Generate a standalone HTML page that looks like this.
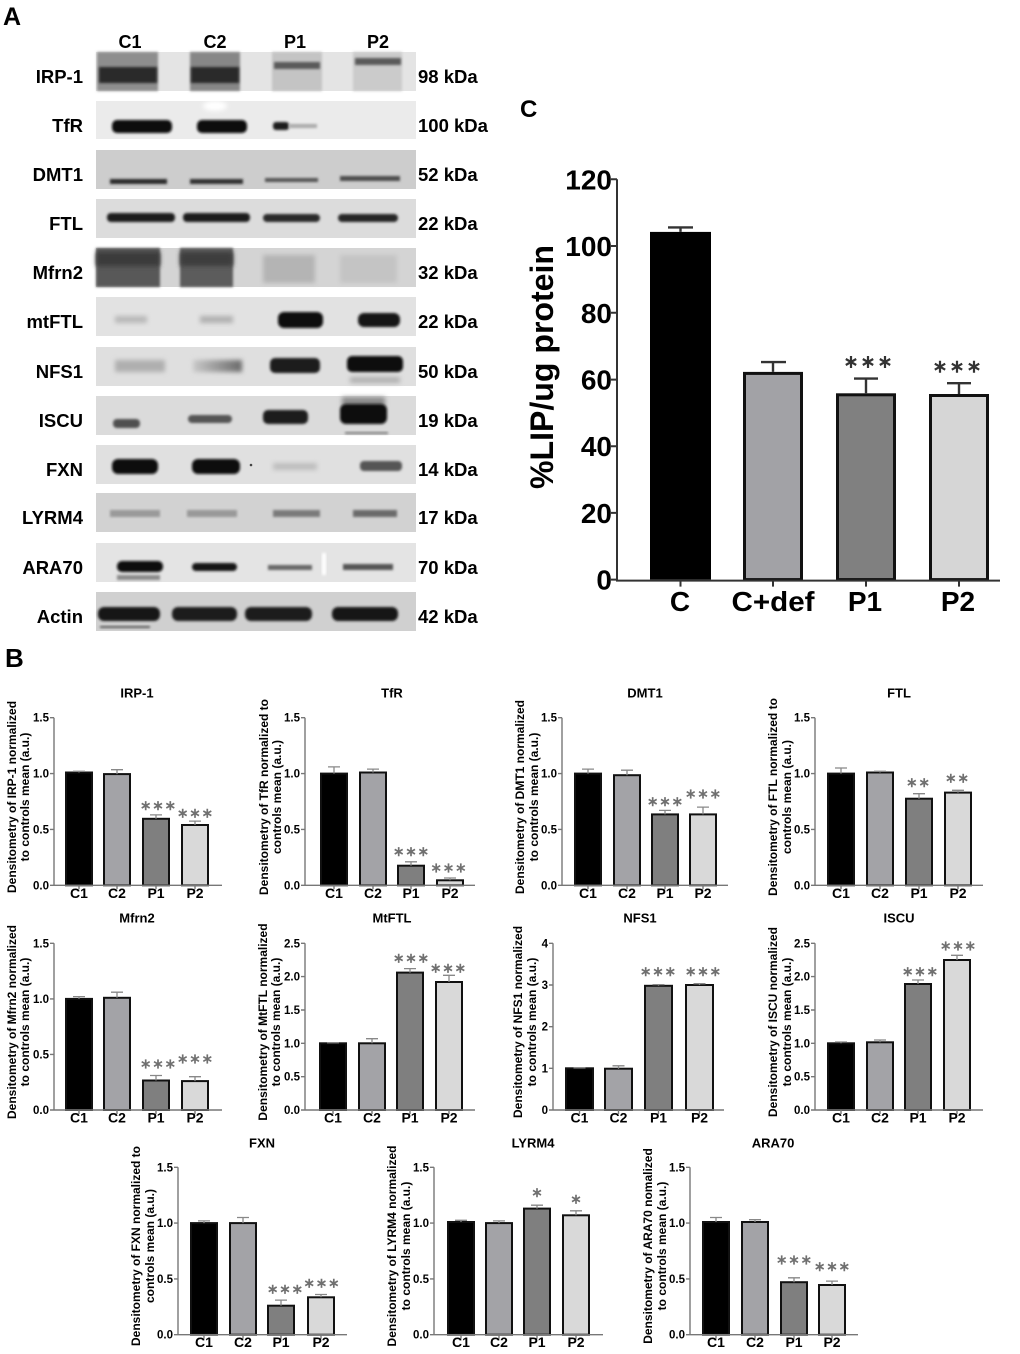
<!DOCTYPE html>
<html>
<head>
<meta charset="utf-8">
<style>
html,body{margin:0;padding:0;background:#fff;}
svg{display:block;}
text{font-family:"Liberation Sans",Arial,sans-serif;font-weight:bold;fill:#000;}
.lab{font-size:18.5px;}
.lane{font-size:18px;text-anchor:middle;}
.pn{font-size:18.5px;text-anchor:end;}
.tl{font-size:11.5px;text-anchor:end;}
.xl{font-size:14px;text-anchor:middle;}
.ti{font-size:13px;text-anchor:middle;}
.yl{font-size:12px;text-anchor:middle;}
.ax{stroke:#777;stroke-width:1.4;fill:none;}
.eb{stroke:#888;stroke-width:1.3;fill:none;}
.b{stroke:#111;stroke-width:2;}
.B{stroke:#111;stroke-width:3;}
.cax{stroke:#333;stroke-width:2;fill:none;}
.ceb{stroke:#333;stroke-width:2.4;fill:none;}
.ctl{font-size:28px;text-anchor:end;}
.cxl{font-size:28px;text-anchor:middle;}
</style>
</head>
<body>
<svg width="1020" height="1354" viewBox="0 0 1020 1354" xmlns="http://www.w3.org/2000/svg">
<defs>
<filter id="f1" x="-20%" y="-60%" width="140%" height="220%"><feGaussianBlur stdDeviation="1.2"/></filter>
<filter id="f2" x="-30%" y="-80%" width="160%" height="260%"><feGaussianBlur stdDeviation="2.4"/></filter>
<linearGradient id="gn" x1="0" x2="1" y1="0" y2="0"><stop offset="0" stop-color="#c8c8c8"/><stop offset="1" stop-color="#6a6a6a"/></linearGradient>
<path id="s" d="M0,-4.6V4.6M-4,-2.3L4,2.3M-4,2.3L4,-2.3" stroke="#707070" stroke-width="1.7" fill="none"/>
<path id="S" d="M0,-6V6M-5.2,-3L5.2,3M-5.2,3L5.2,-3" stroke="#333" stroke-width="2.2" fill="none"/>
</defs>

<!-- ============ PANEL A ============ -->
<text x="3" y="25" style="font-size:25px">A</text>
<text class="lane" x="130" y="48">C1</text>
<text class="lane" x="215" y="48">C2</text>
<text class="lane" x="295" y="48">P1</text>
<text class="lane" x="378" y="48">P2</text>

<!-- IRP-1 -->
<rect x="96" y="52" width="320" height="39" fill="#e4e4e4"/>
<rect x="97" y="52" width="61" height="39" fill="#8e8e8e" filter="url(#f1)"/>
<rect x="190" y="52" width="50" height="39" fill="#878787" filter="url(#f1)"/>
<rect x="99" y="67" width="58" height="16" fill="#2a2a2a" filter="url(#f1)"/>
<rect x="191" y="67" width="48" height="16" fill="#2a2a2a" filter="url(#f1)"/>
<rect x="272" y="52" width="50" height="39" fill="#c4c4c4" filter="url(#f1)"/>
<rect x="274" y="62" width="46" height="7" fill="#5a5a5a" filter="url(#f1)"/>
<rect x="353" y="52" width="49" height="39" fill="#cbcbcb" filter="url(#f1)"/>
<rect x="355" y="58" width="46" height="7" fill="#5a5a5a" filter="url(#f1)"/>
<text class="pn" x="83" y="83">IRP-1</text>
<text class="lab" x="418" y="83">98 kDa</text>

<!-- TfR -->
<rect x="96" y="101" width="320" height="38" fill="#ebebeb"/>
<ellipse cx="215" cy="106" rx="12" ry="5" fill="#fff" filter="url(#f2)"/>
<rect x="112" y="120" width="60" height="13" rx="5" fill="#0d0d0d" filter="url(#f1)"/>
<rect x="197" y="120" width="50" height="13" rx="5" fill="#0d0d0d" filter="url(#f1)"/>
<rect x="273" y="122" width="16" height="8" rx="3" fill="#1a1a1a" filter="url(#f1)"/>
<rect x="289" y="124" width="28" height="4" fill="#aaa" filter="url(#f1)"/>
<text class="pn" x="83" y="132">TfR</text>
<text class="lab" x="418" y="132">100 kDa</text>

<!-- DMT1 -->
<rect x="96" y="150" width="320" height="39" fill="#cdcdcd"/>
<rect x="110" y="179" width="57" height="5" fill="#2b2b2b" filter="url(#f1)"/>
<rect x="190" y="179" width="53" height="5" fill="#333" filter="url(#f1)"/>
<rect x="265" y="178" width="53" height="4" fill="#555" filter="url(#f1)"/>
<rect x="340" y="176" width="60" height="5" fill="#4d4d4d" filter="url(#f1)"/>
<text class="pn" x="83" y="181">DMT1</text>
<text class="lab" x="418" y="181">52 kDa</text>

<!-- FTL -->
<rect x="96" y="199" width="320" height="39" fill="#dcdcdc"/>
<rect x="107" y="213" width="68" height="9" rx="4" fill="#1c1c1c" filter="url(#f1)"/>
<rect x="183" y="213" width="67" height="9" rx="4" fill="#1c1c1c" filter="url(#f1)"/>
<rect x="263" y="214" width="57" height="8" rx="4" fill="#2a2a2a" filter="url(#f1)"/>
<rect x="338" y="214" width="60" height="8" rx="4" fill="#262626" filter="url(#f1)"/>
<text class="pn" x="83" y="230">FTL</text>
<text class="lab" x="418" y="230">22 kDa</text>

<!-- Mfrn2 -->
<rect x="96" y="248" width="320" height="39" fill="#d4d4d4"/>
<rect x="96" y="248" width="64" height="39" fill="#585858" filter="url(#f1)"/>
<rect x="96" y="252" width="64" height="14" fill="#3a3a3a" filter="url(#f2)"/>
<rect x="180" y="248" width="53" height="39" fill="#5c5c5c" filter="url(#f1)"/>
<rect x="180" y="252" width="53" height="14" fill="#3e3e3e" filter="url(#f2)"/>
<rect x="263" y="255" width="52" height="28" fill="#b4b4b4" filter="url(#f2)"/>
<rect x="340" y="255" width="57" height="28" fill="#c4c4c4" filter="url(#f2)"/>
<text class="pn" x="83" y="279">Mfrn2</text>
<text class="lab" x="418" y="279">32 kDa</text>

<!-- mtFTL -->
<rect x="96" y="297" width="320" height="39" fill="#e2e2e2"/>
<rect x="115" y="316" width="32" height="7" fill="#b8b8b8" filter="url(#f2)"/>
<rect x="200" y="316" width="33" height="7" fill="#b0b0b0" filter="url(#f2)"/>
<rect x="278" y="312" width="45" height="16" rx="6" fill="#111" filter="url(#f1)"/>
<rect x="358" y="313" width="42" height="14" rx="6" fill="#161616" filter="url(#f1)"/>
<text class="pn" x="83" y="328">mtFTL</text>
<text class="lab" x="418" y="328">22 kDa</text>

<!-- NFS1 -->
<rect x="96" y="347" width="320" height="39" fill="#dfdfdf"/>
<rect x="115" y="360" width="50" height="12" fill="#afafaf" filter="url(#f2)"/>
<rect x="193" y="360" width="49" height="12" fill="url(#gn)" filter="url(#f2)"/>
<rect x="270" y="358" width="50" height="15" rx="5" fill="#1a1a1a" filter="url(#f1)"/>
<rect x="347" y="356" width="56" height="16" rx="5" fill="#0f0f0f" filter="url(#f1)"/>
<rect x="350" y="377" width="50" height="6" fill="#b0b0b0" filter="url(#f2)"/>
<text class="pn" x="83" y="378">NFS1</text>
<text class="lab" x="418" y="378">50 kDa</text>

<!-- ISCU -->
<rect x="96" y="396" width="320" height="39" fill="#dbdbdb"/>
<rect x="342" y="397" width="43" height="10" fill="#8a8a8a" filter="url(#f2)"/>
<rect x="113" y="419" width="27" height="9" rx="4" fill="#505050" filter="url(#f1)"/>
<rect x="188" y="415" width="44" height="8" rx="4" fill="#555" filter="url(#f1)"/>
<rect x="263" y="410" width="45" height="14" rx="5" fill="#1c1c1c" filter="url(#f1)"/>
<rect x="340" y="404" width="47" height="20" rx="6" fill="#0c0c0c" filter="url(#f1)"/>
<rect x="345" y="432" width="43" height="2" fill="#777" filter="url(#f1)"/>
<text class="pn" x="83" y="427">ISCU</text>
<text class="lab" x="418" y="427">19 kDa</text>

<!-- FXN -->
<rect x="96" y="445" width="320" height="39" fill="#e0e0e0"/>
<rect x="112" y="459" width="46" height="15" rx="6" fill="#0d0d0d" filter="url(#f1)"/>
<rect x="192" y="459" width="48" height="15" rx="6" fill="#0d0d0d" filter="url(#f1)"/>
<rect x="273" y="463" width="44" height="7" fill="#bdbdbd" filter="url(#f2)"/>
<rect x="360" y="461" width="42" height="10" rx="4" fill="#555" filter="url(#f1)"/>
<circle cx="251" cy="465" r="1.3" fill="#444"/>
<text class="pn" x="83" y="476">FXN</text>
<text class="lab" x="418" y="476">14 kDa</text>

<!-- LYRM4 -->
<rect x="96" y="493" width="320" height="39" fill="#d2d2d2"/>
<rect x="110" y="510" width="50" height="7" fill="#9a9a9a" filter="url(#f1)"/>
<rect x="187" y="510" width="50" height="7" fill="#999" filter="url(#f1)"/>
<rect x="273" y="510" width="47" height="7" fill="#7a7a7a" filter="url(#f1)"/>
<rect x="353" y="510" width="44" height="7" fill="#6a6a6a" filter="url(#f1)"/>
<text class="pn" x="83" y="524">LYRM4</text>
<text class="lab" x="418" y="524">17 kDa</text>

<!-- ARA70 -->
<rect x="96" y="543" width="320" height="39" fill="#e4e4e4"/>
<rect x="117" y="561" width="46" height="11" rx="5" fill="#0e0e0e" filter="url(#f1)"/>
<rect x="117" y="575" width="43" height="5" fill="#8a8a8a" filter="url(#f1)"/>
<rect x="192" y="563" width="45" height="8" rx="4" fill="#151515" filter="url(#f1)"/>
<rect x="268" y="565" width="44" height="5" fill="#666" filter="url(#f1)"/>
<rect x="343" y="564" width="50" height="6" fill="#555" filter="url(#f1)"/>
<rect x="322" y="553" width="4" height="22" fill="#fff" filter="url(#f1)"/>
<text class="pn" x="83" y="574">ARA70</text>
<text class="lab" x="418" y="574">70 kDa</text>

<!-- Actin -->
<rect x="96" y="592" width="320" height="39" fill="#d0d0d0"/>
<rect x="98" y="607" width="62" height="14" rx="6" fill="#181818" filter="url(#f1)"/>
<rect x="172" y="607" width="65" height="14" rx="6" fill="#1a1a1a" filter="url(#f1)"/>
<rect x="245" y="607" width="67" height="14" rx="6" fill="#1c1c1c" filter="url(#f1)"/>
<rect x="332" y="607" width="66" height="14" rx="6" fill="#121212" filter="url(#f1)"/>
<rect x="100" y="626" width="50" height="2" fill="#555" filter="url(#f1)"/>
<text class="pn" x="83" y="623">Actin</text>
<text class="lab" x="418" y="623">42 kDa</text>

<!-- ============ PANEL C ============ -->
<text x="520" y="117" style="font-size:24px">C</text>
<text class="ctl" x="612" y="189.3">120</text>
<text class="ctl" x="612" y="256">100</text>
<text class="ctl" x="612" y="322.8">80</text>
<text class="ctl" x="612" y="389.6">60</text>
<text class="ctl" x="612" y="456.2">40</text>
<text class="ctl" x="612" y="522.9">20</text>
<text class="ctl" x="612" y="589.6">0</text>
<text transform="translate(553,367) rotate(-90)" style="font-size:32px;text-anchor:middle" textLength="244" lengthAdjust="spacingAndGlyphs">%LIP/ug protein</text>
<rect x="650" y="231.9" width="61" height="347.7" fill="#000"/>
<rect class="B" x="744.5" y="373.4" width="57" height="206.2" fill="#a2a2a6"/>
<rect class="B" x="837.5" y="394.8" width="57" height="184.8" fill="#808080"/>
<rect class="B" x="930.5" y="395.5" width="57" height="184.1" fill="#d6d6d6"/>
<path class="ceb" d="M680.5,231.9V227.4M668,227.4H693M773,371.9V362.1M761,362.1H786M866,393.3V378.6M854,378.6H878M959,394V383.2M947,383.2H971"/>
<path class="cax" d="M617,179.3V580.6H1000M611,179.3H617M611,246H617M611,312.8H617M611,379.6H617M611,446.2H617M611,512.9H617M611,579.6H617M680.5,580.6v6M773,580.6v6M866,580.6v6M959,580.6v6"/>
<use href="#S" x="851" y="362"/><use href="#S" x="868" y="362"/><use href="#S" x="885" y="362"/>
<use href="#S" x="940" y="366.7"/><use href="#S" x="957" y="366.7"/><use href="#S" x="974" y="366.7"/>
<text class="cxl" x="680" y="611">C</text>
<text class="cxl" x="773" y="611" textLength="83" lengthAdjust="spacingAndGlyphs">C+def</text>
<text class="cxl" x="865" y="611">P1</text>
<text class="cxl" x="958" y="611">P2</text>

<!-- ============ PANEL B ============ -->
<text x="5" y="667" style="font-size:26px">B</text>

<!-- Chart 1 IRP-1 -->
<text class="ti" x="137" y="697.5">IRP-1</text>
<text class="yl" transform="translate(16,797) rotate(-90)">Densitometry of IRP-1 normalized</text>
<text class="yl" transform="translate(29,797) rotate(-90)">to controls mean (a.u.)</text>
<text class="tl" x="49" y="721.7">1.5</text><text class="tl" x="49" y="777.6">1.0</text><text class="tl" x="49" y="833.4">0.5</text><text class="tl" x="49" y="889.3">0.0</text>
<rect class="b" x="66" y="772.5" width="26" height="112.8" fill="#000"/>
<rect class="b" x="104" y="774.1" width="26" height="111.2" fill="#a3a3a7"/>
<rect class="b" x="143" y="818.8" width="26" height="66.5" fill="#7f7f7f"/>
<rect class="b" x="182" y="825" width="26" height="60.3" fill="#d9d9d9"/>
<path class="eb" d="M79,772.5V771.3M73,771.3H85M117,774.1V769.7M111,769.7H123M156,818.8V814.9M150,814.9H162M195,825V821.1M189,821.1H201"/>
<path class="ax" d="M54,717.7V885.3H222M50,717.7H54M50,773.6H54M50,829.4H54M50,885.3H54M79,885.3v4M117,885.3v4M156,885.3v4M195,885.3v4"/>
<use href="#s" x="145.7" y="805.7"/><use href="#s" x="158" y="805.7"/><use href="#s" x="170.3" y="805.7"/>
<use href="#s" x="182.7" y="813.3"/><use href="#s" x="195" y="813.3"/><use href="#s" x="207.3" y="813.3"/>
<text class="xl" x="79" y="898">C1</text><text class="xl" x="117" y="898">C2</text><text class="xl" x="156" y="898">P1</text><text class="xl" x="195" y="898">P2</text>

<!-- Chart 2 TfR -->
<text class="ti" x="392" y="697.5">TfR</text>
<text class="yl" transform="translate(268,797) rotate(-90)">Densitometry of TfR normalized to</text>
<text class="yl" transform="translate(281,797) rotate(-90)">controls mean (a.u.)</text>
<text class="tl" x="300" y="721.7">1.5</text><text class="tl" x="300" y="777.6">1.0</text><text class="tl" x="300" y="833.4">0.5</text><text class="tl" x="300" y="889.3">0.0</text>
<rect class="b" x="321" y="773.6" width="26" height="111.7" fill="#000"/>
<rect class="b" x="360" y="772.5" width="26" height="112.8" fill="#a3a3a7"/>
<rect class="b" x="398" y="865.7" width="26" height="19.6" fill="#7f7f7f"/>
<rect class="b" x="437" y="880.3" width="26" height="5" fill="#d9d9d9"/>
<path class="eb" d="M334,773.6V766.9M328,766.9H340M373,772.5V769.1M367,769.1H379M411,865.7V861.8M405,861.8H417M450,880.3V878M444,878H456"/>
<path class="ax" d="M305,717.7V885.3H475M301,717.7H305M301,773.6H305M301,829.4H305M301,885.3H305M334,885.3v4M373,885.3v4M411,885.3v4M450,885.3v4"/>
<use href="#s" x="398.7" y="851.7"/><use href="#s" x="411" y="851.7"/><use href="#s" x="423.3" y="851.7"/>
<use href="#s" x="436.2" y="868"/><use href="#s" x="448.5" y="868"/><use href="#s" x="460.8" y="868"/>
<text class="xl" x="334" y="898">C1</text><text class="xl" x="373" y="898">C2</text><text class="xl" x="411" y="898">P1</text><text class="xl" x="450" y="898">P2</text>

<!-- Chart 3 DMT1 -->
<text class="ti" x="645" y="697.5">DMT1</text>
<text class="yl" transform="translate(524,797) rotate(-90)">Densitometry of DMT1 normalized</text>
<text class="yl" transform="translate(538,797) rotate(-90)">to controls mean (a.u.)</text>
<text class="tl" x="557" y="721.7">1.5</text><text class="tl" x="557" y="777.6">1.0</text><text class="tl" x="557" y="833.4">0.5</text><text class="tl" x="557" y="889.3">0.0</text>
<rect class="b" x="575" y="773.6" width="26" height="111.7" fill="#000"/>
<rect class="b" x="614" y="775.2" width="26" height="110.1" fill="#a3a3a7"/>
<rect class="b" x="652" y="814.4" width="26" height="70.9" fill="#7f7f7f"/>
<rect class="b" x="690" y="814.4" width="26" height="70.9" fill="#d9d9d9"/>
<path class="eb" d="M588,773.6V769.1M582,769.1H594M627,775.2V770.2M621,770.2H633M665,814.4V810.4M659,810.4H671M703,814.4V807.1M697,807.1H709"/>
<path class="ax" d="M562,717.7V885.3H728M558,717.7H562M558,773.6H562M558,829.4H562M558,885.3H562M588,885.3v4M627,885.3v4M665,885.3v4M703,885.3v4"/>
<use href="#s" x="652.7" y="801.7"/><use href="#s" x="665" y="801.7"/><use href="#s" x="677.3" y="801.7"/>
<use href="#s" x="690.7" y="794"/><use href="#s" x="703" y="794"/><use href="#s" x="715.3" y="794"/>
<text class="xl" x="588" y="898">C1</text><text class="xl" x="627" y="898">C2</text><text class="xl" x="665" y="898">P1</text><text class="xl" x="703" y="898">P2</text>

<!-- Chart 4 FTL -->
<text class="ti" x="899" y="697.5">FTL</text>
<text class="yl" transform="translate(777,797) rotate(-90)">Densitometry of FTL normalized to</text>
<text class="yl" transform="translate(791,797) rotate(-90)">controls mean (a.u.)</text>
<text class="tl" x="810" y="721.7">1.5</text><text class="tl" x="810" y="777.6">1.0</text><text class="tl" x="810" y="833.4">0.5</text><text class="tl" x="810" y="889.3">0.0</text>
<rect class="b" x="828" y="773.6" width="26" height="111.7" fill="#000"/>
<rect class="b" x="867" y="772.5" width="26" height="112.8" fill="#a3a3a7"/>
<rect class="b" x="906" y="798.7" width="26" height="86.6" fill="#7f7f7f"/>
<rect class="b" x="945" y="792.6" width="26" height="92.7" fill="#d9d9d9"/>
<path class="eb" d="M841,773.6V768M835,768H847M880,772.5V771.3M874,771.3H886M919,798.7V793.7M913,793.7H925M958,792.6V790.3M952,790.3H964"/>
<path class="ax" d="M815,717.7V885.3H983M811,717.7H815M811,773.6H815M811,829.4H815M811,885.3H815M841,885.3v4M880,885.3v4M919,885.3v4M958,885.3v4"/>
<use href="#s" x="911.8" y="782.7"/><use href="#s" x="924.2" y="782.7"/>
<use href="#s" x="950.8" y="778.3"/><use href="#s" x="963.2" y="778.3"/>
<text class="xl" x="841" y="898">C1</text><text class="xl" x="880" y="898">C2</text><text class="xl" x="919" y="898">P1</text><text class="xl" x="958" y="898">P2</text>

<!-- Chart 5 Mfrn2 -->
<text class="ti" x="137" y="922.5">Mfrn2</text>
<text class="yl" transform="translate(16,1022) rotate(-90)">Densitometry of Mfrn2 normalized</text>
<text class="yl" transform="translate(29,1022) rotate(-90)">to controls mean (a.u.)</text>
<text class="tl" x="49" y="947.3">1.5</text><text class="tl" x="49" y="1002.9">1.0</text><text class="tl" x="49" y="1058.4">0.5</text><text class="tl" x="49" y="1114">0.0</text>
<rect class="b" x="66" y="998.9" width="26" height="111.1" fill="#000"/>
<rect class="b" x="104" y="997.8" width="26" height="112.2" fill="#a3a3a7"/>
<rect class="b" x="143" y="1080.5" width="26" height="29.5" fill="#7f7f7f"/>
<rect class="b" x="182" y="1081.1" width="26" height="28.9" fill="#d9d9d9"/>
<path class="eb" d="M79,998.9V996.6M73,996.6H85M117,997.8V992.2M111,992.2H123M156,1080.5V1075.5M150,1075.5H162M195,1081.1V1076.7M189,1076.7H201"/>
<path class="ax" d="M54,943.3V1110H222M50,943.3H54M50,998.9H54M50,1054.4H54M50,1110H54M79,1110v4M117,1110v4M156,1110v4M195,1110v4"/>
<use href="#s" x="145.7" y="1064"/><use href="#s" x="158" y="1064"/><use href="#s" x="170.3" y="1064"/>
<use href="#s" x="182.7" y="1059"/><use href="#s" x="195" y="1059"/><use href="#s" x="207.3" y="1059"/>
<text class="xl" x="79" y="1122.5">C1</text><text class="xl" x="117" y="1122.5">C2</text><text class="xl" x="156" y="1122.5">P1</text><text class="xl" x="195" y="1122.5">P2</text>

<!-- Chart 6 MtFTL -->
<text class="ti" x="392" y="922.5">MtFTL</text>
<text class="yl" transform="translate(267,1022) rotate(-90)">Densitometry of MtFTL normalized</text>
<text class="yl" transform="translate(280,1022) rotate(-90)">to controls mean (a.u.)</text>
<text class="tl" x="300" y="947.3">2.5</text><text class="tl" x="300" y="980.6">2.0</text><text class="tl" x="300" y="1014">1.5</text><text class="tl" x="300" y="1047.3">1.0</text><text class="tl" x="300" y="1080.7">0.5</text><text class="tl" x="300" y="1114">0.0</text>
<rect class="b" x="320" y="1043.3" width="26" height="66.7" fill="#000"/>
<rect class="b" x="359" y="1043.3" width="26" height="66.7" fill="#a3a3a7"/>
<rect class="b" x="397" y="972.6" width="26" height="137.4" fill="#7f7f7f"/>
<rect class="b" x="436" y="982" width="26" height="128" fill="#d9d9d9"/>
<path class="eb" d="M333,1043.3V1042.7M327,1042.7H339M372,1043.3V1038.7M366,1038.7H378M410,972.6V968.6M404,968.6H416M449,982V975.3M443,975.3H455"/>
<path class="ax" d="M305,943.3V1110H475M301,943.3H305M301,976.6H305M301,1010H305M301,1043.3H305M301,1076.7H305M301,1110H305M333,1110v4M372,1110v4M410,1110v4M449,1110v4"/>
<use href="#s" x="398.7" y="958.3"/><use href="#s" x="411" y="958.3"/><use href="#s" x="423.3" y="958.3"/>
<use href="#s" x="435.7" y="968.3"/><use href="#s" x="448" y="968.3"/><use href="#s" x="460.3" y="968.3"/>
<text class="xl" x="333" y="1122.5">C1</text><text class="xl" x="372" y="1122.5">C2</text><text class="xl" x="410" y="1122.5">P1</text><text class="xl" x="449" y="1122.5">P2</text>

<!-- Chart 7 NFS1 -->
<text class="ti" x="640" y="922.5">NFS1</text>
<text class="yl" transform="translate(522,1022) rotate(-90)">Densitometry of NFS1 normalized</text>
<text class="yl" transform="translate(536,1022) rotate(-90)">to controls mean (a.u.)</text>
<text class="tl" x="548" y="947.3">4</text><text class="tl" x="548" y="989">3</text><text class="tl" x="548" y="1030.7">2</text><text class="tl" x="548" y="1072.3">1</text><text class="tl" x="548" y="1114">0</text>
<rect class="b" x="566" y="1068.3" width="27" height="41.7" fill="#000"/>
<rect class="b" x="605" y="1068.7" width="27" height="41.3" fill="#a3a3a7"/>
<rect class="b" x="645" y="985.8" width="27" height="124.2" fill="#7f7f7f"/>
<rect class="b" x="686" y="985" width="27" height="125" fill="#d9d9d9"/>
<path class="eb" d="M579.5,1068.3V1067.9M573.5,1067.9H585.5M618.5,1068.7V1065.8M612.5,1065.8H624.5M658.5,985.8V984.6M652.5,984.6H664.5M699.5,985V983.7M693.5,983.7H705.5"/>
<path class="ax" d="M553,943.3V1110H724M549,943.3H553M549,985H553M549,1026.7H553M549,1068.3H553M549,1110H553M579.5,1110v4M618.5,1110v4M658.5,1110v4M699.5,1110v4"/>
<use href="#s" x="645.7" y="971.7"/><use href="#s" x="658" y="971.7"/><use href="#s" x="670.3" y="971.7"/>
<use href="#s" x="690.7" y="971.7"/><use href="#s" x="703" y="971.7"/><use href="#s" x="715.3" y="971.7"/>
<text class="xl" x="579.5" y="1122.5">C1</text><text class="xl" x="618.5" y="1122.5">C2</text><text class="xl" x="658.5" y="1122.5">P1</text><text class="xl" x="699.5" y="1122.5">P2</text>

<!-- Chart 8 ISCU -->
<text class="ti" x="899" y="922.5">ISCU</text>
<text class="yl" transform="translate(777,1022) rotate(-90)">Densitometry of ISCU normalized</text>
<text class="yl" transform="translate(791,1022) rotate(-90)">to controls mean (a.u.)</text>
<text class="tl" x="810" y="947.3">2.5</text><text class="tl" x="810" y="980.6">2.0</text><text class="tl" x="810" y="1014">1.5</text><text class="tl" x="810" y="1047.3">1.0</text><text class="tl" x="810" y="1080.7">0.5</text><text class="tl" x="810" y="1114">0.0</text>
<rect class="b" x="828" y="1043.3" width="26" height="66.7" fill="#000"/>
<rect class="b" x="867" y="1042.3" width="26" height="67.7" fill="#a3a3a7"/>
<rect class="b" x="905" y="984" width="26" height="126" fill="#7f7f7f"/>
<rect class="b" x="944" y="960" width="26" height="150" fill="#d9d9d9"/>
<path class="eb" d="M841,1043.3V1042M835,1042H847M880,1042.3V1040M874,1040H886M918,984V980M912,980H924M957,960V955.3M951,955.3H963"/>
<path class="ax" d="M815,943.3V1110H983M811,943.3H815M811,976.6H815M811,1010H815M811,1043.3H815M811,1076.7H815M811,1110H815M841,1110v4M880,1110v4M918,1110v4M957,1110v4"/>
<use href="#s" x="907.7" y="971.7"/><use href="#s" x="920" y="971.7"/><use href="#s" x="932.3" y="971.7"/>
<use href="#s" x="945.7" y="946"/><use href="#s" x="958" y="946"/><use href="#s" x="970.3" y="946"/>
<text class="xl" x="841" y="1122.5">C1</text><text class="xl" x="880" y="1122.5">C2</text><text class="xl" x="918" y="1122.5">P1</text><text class="xl" x="957" y="1122.5">P2</text>

<!-- Chart 9 FXN -->
<text class="ti" x="262" y="1147.5">FXN</text>
<text class="yl" transform="translate(140,1246) rotate(-90)">Densitometry of FXN normalized to</text>
<text class="yl" transform="translate(154,1246) rotate(-90)">controls mean (a.u.)</text>
<text class="tl" x="173" y="1171.3">1.5</text><text class="tl" x="173" y="1227.1">1.0</text><text class="tl" x="173" y="1282.9">0.5</text><text class="tl" x="173" y="1338.7">0.0</text>
<rect class="b" x="191" y="1223.1" width="26" height="111.6" fill="#000"/>
<rect class="b" x="230" y="1223.1" width="26" height="111.6" fill="#a3a3a7"/>
<rect class="b" x="268" y="1305.7" width="26" height="29" fill="#7f7f7f"/>
<rect class="b" x="308" y="1297.3" width="26" height="37.4" fill="#d9d9d9"/>
<path class="eb" d="M204,1223.1V1220.9M198,1220.9H210M243,1223.1V1217.5M237,1217.5H249M281,1305.7V1300.1M275,1300.1H287M321,1297.3V1294.5M315,1294.5H327"/>
<path class="ax" d="M178,1167.3V1334.7H347M174,1167.3H178M174,1223.1H178M174,1278.9H178M174,1334.7H178M204,1334.7v4M243,1334.7v4M281,1334.7v4M321,1334.7v4"/>
<use href="#s" x="272.7" y="1289.3"/><use href="#s" x="285" y="1289.3"/><use href="#s" x="297.3" y="1289.3"/>
<use href="#s" x="309.2" y="1283.3"/><use href="#s" x="321.5" y="1283.3"/><use href="#s" x="333.8" y="1283.3"/>
<text class="xl" x="204" y="1347">C1</text><text class="xl" x="243" y="1347">C2</text><text class="xl" x="281" y="1347">P1</text><text class="xl" x="321" y="1347">P2</text>

<!-- Chart 10 LYRM4 -->
<text class="ti" x="533" y="1147.5">LYRM4</text>
<text class="yl" transform="translate(396,1246) rotate(-90)">Densitometry of LYRM4 normalized</text>
<text class="yl" transform="translate(410,1246) rotate(-90)">to controls mean (a.u.)</text>
<text class="tl" x="429" y="1171.3">1.5</text><text class="tl" x="429" y="1227.1">1.0</text><text class="tl" x="429" y="1282.9">0.5</text><text class="tl" x="429" y="1338.7">0.0</text>
<rect class="b" x="448" y="1222" width="26" height="112.7" fill="#000"/>
<rect class="b" x="486" y="1223.1" width="26" height="111.6" fill="#a3a3a7"/>
<rect class="b" x="524" y="1208.6" width="26" height="126.1" fill="#7f7f7f"/>
<rect class="b" x="563" y="1215.3" width="26" height="119.4" fill="#d9d9d9"/>
<path class="eb" d="M461,1222V1220.3M455,1220.3H467M499,1223.1V1220.9M493,1220.9H505M537,1208.6V1205.2M531,1205.2H543M576,1215.3V1210.8M570,1210.8H582"/>
<path class="ax" d="M434,1167.3V1334.7H603M430,1167.3H434M430,1223.1H434M430,1278.9H434M430,1334.7H434M461,1334.7v4M499,1334.7v4M537,1334.7v4M576,1334.7v4"/>
<use href="#s" x="537" y="1192.7"/>
<use href="#s" x="576" y="1199.3"/>
<text class="xl" x="461" y="1347">C1</text><text class="xl" x="499" y="1347">C2</text><text class="xl" x="537" y="1347">P1</text><text class="xl" x="576" y="1347">P2</text>

<!-- Chart 11 ARA70 -->
<text class="ti" x="773" y="1147.5">ARA70</text>
<text class="yl" transform="translate(652,1246) rotate(-90)">Densitometry of ARA70 nomalized</text>
<text class="yl" transform="translate(666,1246) rotate(-90)">to controls mean (a.u.)</text>
<text class="tl" x="685" y="1171.3">1.5</text><text class="tl" x="685" y="1227.1">1.0</text><text class="tl" x="685" y="1282.9">0.5</text><text class="tl" x="685" y="1338.7">0.0</text>
<rect class="b" x="703" y="1222" width="26" height="112.7" fill="#000"/>
<rect class="b" x="742" y="1222" width="26" height="112.7" fill="#a3a3a7"/>
<rect class="b" x="781" y="1282.2" width="26" height="52.5" fill="#7f7f7f"/>
<rect class="b" x="819" y="1285" width="26" height="49.7" fill="#d9d9d9"/>
<path class="eb" d="M716,1222V1217.5M710,1217.5H722M755,1222V1219.7M749,1219.7H761M794,1282.2V1277.8M788,1277.8H800M832,1285V1281.1M826,1281.1H838"/>
<path class="ax" d="M690,1167.3V1334.7H858M686,1167.3H690M686,1223.1H690M686,1278.9H690M686,1334.7H690M716,1334.7v4M755,1334.7v4M794,1334.7v4M832,1334.7v4"/>
<use href="#s" x="781.7" y="1260"/><use href="#s" x="794" y="1260"/><use href="#s" x="806.3" y="1260"/>
<use href="#s" x="819.7" y="1266.7"/><use href="#s" x="832" y="1266.7"/><use href="#s" x="844.3" y="1266.7"/>
<text class="xl" x="716" y="1347">C1</text><text class="xl" x="755" y="1347">C2</text><text class="xl" x="794" y="1347">P1</text><text class="xl" x="832" y="1347">P2</text>
</svg>
</body>
</html>
